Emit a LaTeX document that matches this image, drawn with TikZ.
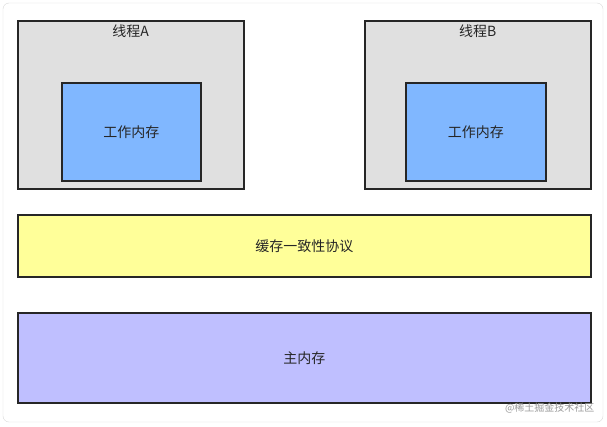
\documentclass[tikz,border=0pt]{standalone}
\usepackage{fontspec}
\newfontfamily\cjk{Noto Sans CJK SC}
\usetikzlibrary{positioning}
\definecolor{threadgray}{RGB}{224,224,224}
\definecolor{memblue}{RGB}{128,183,255}
\definecolor{protoyellow}{RGB}{255,255,153}
\definecolor{mainpurple}{RGB}{191,191,255}
\tikzset{
  box/.style={draw=black!85,line width=1.5pt,anchor=north west,inner sep=0pt},
  label/.style={font=\cjk\fontsize{14}{16}\selectfont,text=black!85},
}
\begin{document}
\begin{tikzpicture}[x=1pt,y=1pt,yscale=-1]
\useasboundingbox (0,0) rectangle (607,426);
\draw[draw=black!15,fill=white,rounded corners=6pt] (3,3) rectangle (603,422);

% threads
\node[box,fill=threadgray,minimum width=226pt,minimum height=168pt] (threadA) at (17,20) {};
\node[label,below=1pt of threadA.north] (nameA) {线程A};
\node[box,fill=memblue,minimum width=139pt,minimum height=98pt] (workA) at (61,82) {};
\node[label] at (workA.center) (textA) {工作内存};

\node[box,fill=threadgray,minimum width=226pt,minimum height=168pt] (threadB) at (364,20) {};
\node[label,below=1pt of threadB.north] (nameB) {线程B};
\node[box,fill=memblue,minimum width=140pt,minimum height=98pt] (workB) at (405,82) {};
\node[label] at (workB.center) (textB) {工作内存};

% protocol and main memory
\node[box,fill=protoyellow,minimum width=573pt,minimum height=62pt] (proto) at (17,214) {};
\node[label] at (proto.center) (textP) {缓存一致性协议};
\node[box,fill=mainpurple,minimum width=573pt,minimum height=90pt] (mainmem) at (17,312) {};
\node[label] at (mainmem.center) (textM) {主内存};

\node[font=\cjk\fontsize{10}{12}\selectfont,text=black!40,anchor=east] (mark) at (598,408) {@稀土掘金技术社区};
\end{tikzpicture}
\end{document}
